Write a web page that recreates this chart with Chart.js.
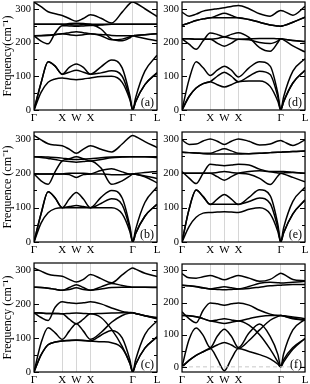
<!DOCTYPE html>
<html>
<head>
<meta charset="utf-8">
<script src="https://cdn.jsdelivr.net/npm/chart.js@4"></script>
<style>
  body { margin: 0; background: #fff; }
  .panel { position: absolute; }
</style>
</head>
<body>
<div class="panel" style="left:0;top:0;width:162px;height:124px"><canvas id="pa"></canvas></div>
<div class="panel" style="left:0;top:128px;width:162px;height:128px"><canvas id="pb"></canvas></div>
<div class="panel" style="left:0;top:258px;width:162px;height:126px"><canvas id="pc"></canvas></div>
<div class="panel" style="left:155px;top:0;width:155px;height:124px"><canvas id="pd"></canvas></div>
<div class="panel" style="left:155px;top:128px;width:155px;height:128px"><canvas id="pe"></canvas></div>
<div class="panel" style="left:155px;top:258px;width:155px;height:126px"><canvas id="pf"></canvas></div>
<script>
// wave-vector positions along the path, and the high-symmetry ticks
const kPts = [0, 0.25, 0.5, 0.75, 1, 1.25, 1.5, 1.75, 2, 2.375, 2.75, 3.125, 3.4, 3.5, 3.6, 3.93, 4.36];
const kTicks = [0, 1, 1.5, 2, 3.5, 4.36];
const kLabels = ['Γ', 'X', 'W', 'X', 'Γ', 'L'];
const yTicks = [0, 100, 200, 300];

// phonon branches (cm-1) at kPts, one row per branch
const freqA = [
  [0, 52, 82, 92, 95, 92, 90, 92, 95, 99, 100, 82, 30, 0, 24, 75, 110],
  [0, 80, 143, 130, 106, 112, 118, 112, 106, 110, 116, 100, 35, 0, 24, 75, 110],
  [0, 80, 143, 130, 106, 126, 136, 126, 106, 128, 148, 125, 42, 0, 36, 115, 162],
  [320, 306, 291, 285, 280, 271, 263, 271, 282, 272, 258, 290, 316, 320, 317, 300, 277],
  [254, 254, 254, 254, 254, 253, 252, 253, 254, 254, 254, 254, 254, 254, 254, 254, 254],
  [254, 254, 254, 254, 254, 256, 257, 256, 254, 240, 210, 205, 214, 220, 218, 212, 205],
  [220, 204, 196, 228, 250, 249, 248, 249, 250, 252, 254, 254, 254, 254, 254, 254, 254],
  [220, 221, 222, 224, 226, 229, 232, 229, 226, 224, 221, 220, 220, 220, 221, 223, 226],
  [220, 220, 221, 223, 226, 223, 221, 223, 226, 220, 208, 210, 217, 220, 221, 223, 226]
];
const freqB = [
  [0, 55, 85, 97, 100, 100, 100, 100, 100, 100, 100, 82, 30, 0, 24, 75, 110],
  [0, 82, 146, 128, 100, 103, 106, 103, 100, 112, 126, 108, 38, 0, 24, 75, 110],
  [0, 82, 146, 128, 100, 125, 144, 125, 100, 130, 150, 128, 45, 0, 36, 115, 160],
  [310, 297, 286, 282, 280, 270, 258, 270, 280, 270, 262, 285, 306, 310, 307, 292, 275],
  [248, 248, 247, 246, 244, 241, 240, 241, 242, 245, 247, 248, 248, 248, 248, 248, 248],
  [248, 246, 243, 240, 236, 234, 232, 234, 236, 215, 168, 178, 192, 198, 197, 192, 185],
  [198, 178, 168, 205, 236, 242, 248, 242, 236, 240, 245, 247, 248, 248, 248, 248, 246],
  [198, 198, 198, 198, 198, 196, 188, 196, 198, 208, 213, 204, 198, 198, 199, 202, 205],
  [198, 198, 198, 198, 198, 200, 200, 200, 198, 198, 196, 196, 197, 198, 197, 190, 172]
];
const freqC = [
  [0, 50, 80, 88, 91, 93, 94, 93, 91, 89, 86, 70, 25, 0, 22, 70, 103],
  [0, 50, 80, 88, 91, 92, 93, 92, 91, 108, 122, 100, 35, 0, 22, 70, 103],
  [0, 85, 130, 115, 96, 120, 142, 120, 96, 116, 146, 166, 173, 174, 172, 165, 156],
  [305, 296, 287, 283, 281, 272, 264, 272, 286, 274, 262, 285, 302, 305, 302, 290, 280],
  [249, 248, 246, 243, 240, 242, 247, 242, 240, 244, 248, 249, 249, 249, 249, 249, 249],
  [249, 248, 246, 243, 240, 248, 256, 248, 240, 250, 260, 254, 250, 249, 249, 249, 248],
  [174, 173, 172, 172, 171, 155, 142, 155, 171, 160, 125, 75, 25, 0, 35, 110, 150],
  [174, 160, 151, 190, 206, 203, 201, 203, 206, 200, 188, 178, 175, 174, 172, 165, 158],
  [174, 173, 172, 172, 171, 172, 173, 172, 171, 172, 173, 174, 174, 174, 172, 165, 160]
];
const freqD = [
  [0, 40, 65, 78, 84, 75, 68, 75, 84, 86, 86, 70, 25, 0, 24, 80, 118],
  [0, 40, 65, 78, 84, 100, 112, 100, 84, 100, 115, 105, 38, 0, 24, 80, 118],
  [0, 90, 143, 125, 102, 118, 130, 118, 98, 125, 143, 130, 48, 0, 38, 115, 152],
  [290, 278, 284, 293, 297, 300, 303, 307, 310, 300, 285, 278, 292, 295, 293, 281, 307],
  [251, 258, 265, 270, 273, 273, 273, 273, 273, 268, 260, 252, 249, 248, 250, 260, 275],
  [251, 258, 265, 270, 273, 280, 287, 280, 273, 268, 260, 252, 249, 248, 250, 260, 275],
  [211, 195, 180, 205, 228, 224, 217, 224, 229, 215, 185, 174, 200, 211, 210, 206, 203],
  [211, 211, 210, 210, 210, 212, 216, 212, 210, 211, 212, 212, 211, 211, 210, 206, 203],
  [211, 211, 210, 210, 210, 198, 189, 198, 210, 208, 200, 197, 205, 211, 208, 190, 172]
];
const freqE = [
  [0, 45, 72, 84, 86, 87, 88, 87, 86, 95, 100, 82, 30, 0, 26, 82, 122],
  [0, 95, 151, 132, 110, 110, 110, 110, 110, 118, 128, 112, 40, 0, 26, 82, 122],
  [0, 95, 151, 132, 109, 125, 138, 125, 109, 130, 152, 135, 50, 0, 40, 118, 159],
  [297, 284, 285, 294, 300, 293, 284, 293, 300, 293, 282, 285, 294, 295, 292, 281, 297],
  [261, 260, 259, 257, 256, 256, 256, 256, 256, 257, 258, 260, 261, 261, 262, 263, 265],
  [261, 260, 259, 258, 258, 265, 271, 265, 258, 257, 258, 260, 261, 261, 262, 263, 265],
  [205, 186, 170, 200, 226, 224, 222, 224, 226, 224, 212, 205, 205, 205, 205, 203, 200],
  [200, 200, 200, 200, 200, 202, 205, 202, 200, 197, 185, 167, 192, 200, 201, 202, 200],
  [200, 200, 200, 200, 200, 190, 180, 190, 200, 205, 207, 204, 201, 200, 198, 188, 175]
];
const freqF = [
  [0, 20, 36, 47, 57, 25, -12, 25, 57, 48, 38, 25, 8, 0, 22, 60, 88],
  [0, 20, 36, 47, 57, 68, 76, 68, 57, 82, 115, 145, 157, 160, 158, 152, 145],
  [0, 85, 121, 98, 60, 95, 117, 95, 60, 105, 133, 95, 38, 0, 40, 115, 148],
  [290, 277, 276, 280, 284, 278, 271, 278, 284, 276, 266, 272, 287, 291, 288, 272, 268],
  [254, 252, 250, 246, 242, 246, 249, 246, 242, 244, 248, 252, 254, 254, 255, 256, 256],
  [254, 252, 249, 245, 242, 241, 240, 241, 242, 250, 260, 263, 262, 261, 261, 263, 266],
  [160, 159, 156, 150, 143, 139, 135, 139, 143, 130, 100, 55, 15, 0, 15, 55, 88],
  [171, 150, 137, 176, 199, 196, 192, 196, 199, 192, 176, 164, 160, 160, 159, 155, 150],
  [160, 159, 156, 150, 143, 146, 150, 146, 143, 150, 157, 160, 160, 160, 158, 150, 145]
];

const serif = '"Liberation Serif", "Times New Roman", serif';

// box around the plot, inward ticks every 50, panel letter
const framePlugin = {
  id: 'frame',
  afterDraw(chart, args, opts) {
    const {ctx, chartArea: a, scales: {y}} = chart;
    ctx.save();
    ctx.strokeStyle = '#000';
    ctx.lineWidth = 1;
    for (let v = 0; v <= y.max; v += 50) {
      const py = Math.round(y.getPixelForValue(v)) + 0.5;
      const len = v % 100 === 0 ? 5 : 3;
      ctx.beginPath();
      ctx.moveTo(a.left, py); ctx.lineTo(a.left + len, py);
      ctx.moveTo(a.right, py); ctx.lineTo(a.right - len, py);
      ctx.stroke();
    }
    ctx.lineWidth = 1.2;
    ctx.strokeRect(a.left, a.top, a.right - a.left, a.bottom - a.top);
    ctx.fillStyle = '#000';
    ctx.font = '12px ' + serif;
    ctx.textAlign = 'right';
    ctx.fillText(opts.label, a.right - 3, a.bottom - 4);
    ctx.restore();
  }
};

function makePanel(id, bands, cfg) {
  const datasets = bands.map(f => ({
    data: kPts.map((k, i) => ({x: k, y: f[i]})),
    borderColor: '#000',
    borderWidth: 1.5,
    pointRadius: 0,
    cubicInterpolationMode: 'monotone'
  }));
  if (cfg.zeroLine) {
    datasets.unshift({
      data: [{x: 0, y: 0}, {x: 4.36, y: 0}],
      borderColor: '#c8c8c8', borderWidth: 1, borderDash: [4, 3], pointRadius: 0
    });
  }
  return new Chart(document.getElementById(id), {
    type: 'line',
    data: {datasets},
    options: {
      responsive: true,
      maintainAspectRatio: false,
      animation: false,
      layout: {padding: {top: cfg.padTop, right: 5, left: 0, bottom: 0}},
      plugins: {
        legend: {display: false},
        tooltip: {enabled: false},
        frame: {label: cfg.label}
      },
      scales: {
        x: {
          type: 'linear', min: 0, max: 4.36,
          afterBuildTicks: s => { s.ticks = kTicks.map(v => ({value: v})); },
          afterFit: s => { s.height = cfg.xh; s.paddingLeft = 0; s.paddingRight = 0; },
          ticks: {
            callback: (v, i) => kLabels[i],
            autoSkip: false, maxRotation: 0, padding: 2,
            color: '#000', font: {family: serif, size: 11}
          },
          grid: {color: '#d6d6d6', drawTicks: false},
          border: {display: false}
        },
        y: {
          min: cfg.yMin, max: 320,
          afterBuildTicks: s => { s.ticks = yTicks.map(v => ({value: v})); },
          afterFit: s => { s.width = cfg.yw; s.paddingTop = 0; s.paddingBottom = 0; },
          ticks: {padding: 3, color: '#000', font: {family: serif, size: 10.5}},
          grid: {display: false, drawTicks: false},
          border: {display: false},
          title: {
            display: !!cfg.title, text: cfg.title || '',
            color: '#000', font: {family: serif, size: 12},
            padding: {top: 1, bottom: 0}
          }
        }
      }
    },
    plugins: [framePlugin]
  });
}

makePanel('pa', freqA, {label: '(a)', title: 'Frequency(cm⁻¹)', yMin: 0, yw: 34, padTop: 2, xh: 14});
makePanel('pb', freqB, {label: '(b)', title: 'Frequence (cm⁻¹)', yMin: 0, yw: 34, padTop: 4, xh: 14});
makePanel('pc', freqC, {label: '(c)', title: 'Frequency (cm⁻¹)', yMin: 0, yw: 34, padTop: 5, xh: 12});
makePanel('pd', freqD, {label: '(d)', yMin: 0, yw: 27, padTop: 2, xh: 14});
makePanel('pe', freqE, {label: '(e)', yMin: 0, yw: 27, padTop: 4, xh: 14});
makePanel('pf', freqF, {label: '(f)', yMin: -16, yw: 27, padTop: 6, xh: 12, zeroLine: true});
</script>
</body>
</html>
